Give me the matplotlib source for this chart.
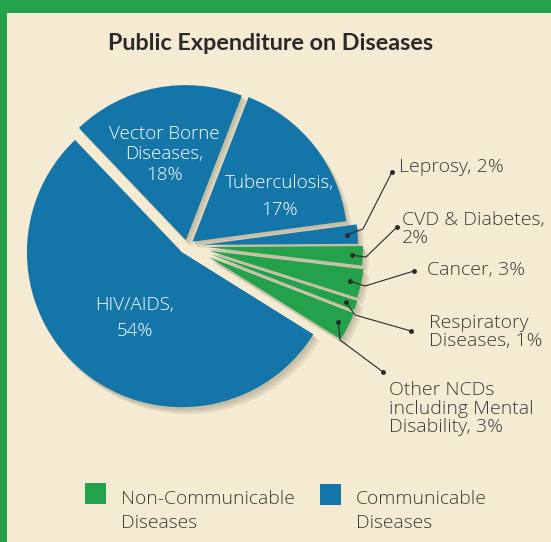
import numpy as np
import matplotlib.pyplot as plt
from matplotlib.patches import Rectangle

# data (counter-clockwise from the lower right)
diseases = ["Other NCDs\nincluding Mental\nDisability", "Respiratory\nDiseases", "Cancer",
            "CVD & Diabetes", "Leprosy", "Tuberculosis", "Vector Borne\nDiseases", "HIV/AIDS"]
shares = [3, 1, 3, 2, 2, 17, 18, 54]
group = ["NCD", "NCD", "NCD", "NCD", "CD", "CD", "CD", "CD"]
sep = [", ", ", ", ", ", ",\n", ", ", ",\n", ",\n", ",\n"]
legend_labels = ["Non-Communicable\nDiseases", "Communicable\nDiseases"]

W, H = 551, 542
bg = "#f5ebd2"
green = "#23a14b"
blue = "#1375a8"
dark = "#3a3a3a"
colors = {"NCD": green, "CD": blue}

plt.rcParams["font.family"] = ["Open Sans", "DejaVu Sans"]

fig = plt.figure(figsize=(W / 100, H / 100), dpi=100)
fig.patch.set_facecolor(bg)
ax = fig.add_axes([0, 0, 1, 1])

cx, cy, R = 187, H - 246, 155
explode = [25, 24, 23, 21, 16, 7, 6, 8]
start = -32

# soft shadow under the wedges
for (dx, dy, sc) in [(6, -7, "#e4dbc4"), (4, -5, "#d5ccb3"), (2, -3, "#c6bea5")]:
    ax.pie(shares, explode=explode, colors=[sc] * len(shares), startangle=start,
           radius=R, center=(cx + dx, cy + dy), wedgeprops=dict(linewidth=0))

wedges, _ = ax.pie(shares, explode=explode, colors=[colors[g] for g in group],
                   startangle=start, radius=R, center=(cx, cy),
                   wedgeprops=dict(linewidth=0))

# labels inside the big slices (x centre, baseline of last line, line spacing)
inside = {5: (279, 215, 1.61), 6: (164, 180, 1.18), 7: (135, 336, 1.58)}
for i, (x, y, ls) in inside.items():
    ax.text(x, H - y, f"{diseases[i]}{sep[i]}{shares[i]}%", ha="center", va="baseline",
            color="white", fontsize=13.5, fontweight="light", linespacing=ls,
            multialignment="center")

# outside labels with leader lines: knee point, end point, text position
outside = {
    4: ((363, 229), (392, 172), (399, 172)),
    3: ((366, 257), (397, 227), (402, 243)),
    2: ((365, 286), (414, 271), (427, 275)),
    1: ((355, 315), (411, 331), (429, 346)),
    0: ((340, 340), (383, 372), (389, 432)),
}
for i, (knee, end, tpos) in outside.items():
    w = wedges[i]
    th = np.deg2rad((w.theta1 + w.theta2) / 2)
    px = w.center[0] + 0.93 * w.r * np.cos(th)
    py = w.center[1] + 0.93 * w.r * np.sin(th)
    ax.plot([px, knee[0], end[0]], [py, H - knee[1], H - end[1]], color="#2a2a2a", lw=0.8)
    ax.plot([px, end[0]], [py, H - end[1]], "o", color="#2a2a2a", ms=2.5)
    ax.text(tpos[0], H - tpos[1], f"{diseases[i]}{sep[i]}{shares[i]}%", ha="left",
            va="baseline", color=dark, fontsize=14, fontweight="light", linespacing=1.02)

# title
ax.text(271, H - 50, "Public Expenditure on Diseases", ha="center", va="baseline",
        fontsize=16.8, fontweight="bold", color="#2a2a2a", family=["Lato", "DejaVu Sans"])

# legend
for (x, y), c, lab in zip([(85, 483), (320, 484)], [green, blue], legend_labels):
    ax.add_patch(Rectangle((x, H - y - 21), 21, 21, color=c, lw=0))
    ax.text(x + 36, H - 528, lab, ha="left", va="baseline", color=dark,
            fontsize=13.9, fontweight="light", linespacing=1.4)

ax.set_xlim(0, W)
ax.set_ylim(0, H)
ax.set_aspect("equal")
ax.axis("off")

# green frame on top and left
fig.patches.append(Rectangle((0, 1 - 13 / H), 1, 13 / H, transform=fig.transFigure, color=green, lw=0))
fig.patches.append(Rectangle((0, 0), 7 / W, 1, transform=fig.transFigure, color=green, lw=0))

fig.savefig("out.png", dpi=100, facecolor=bg)
